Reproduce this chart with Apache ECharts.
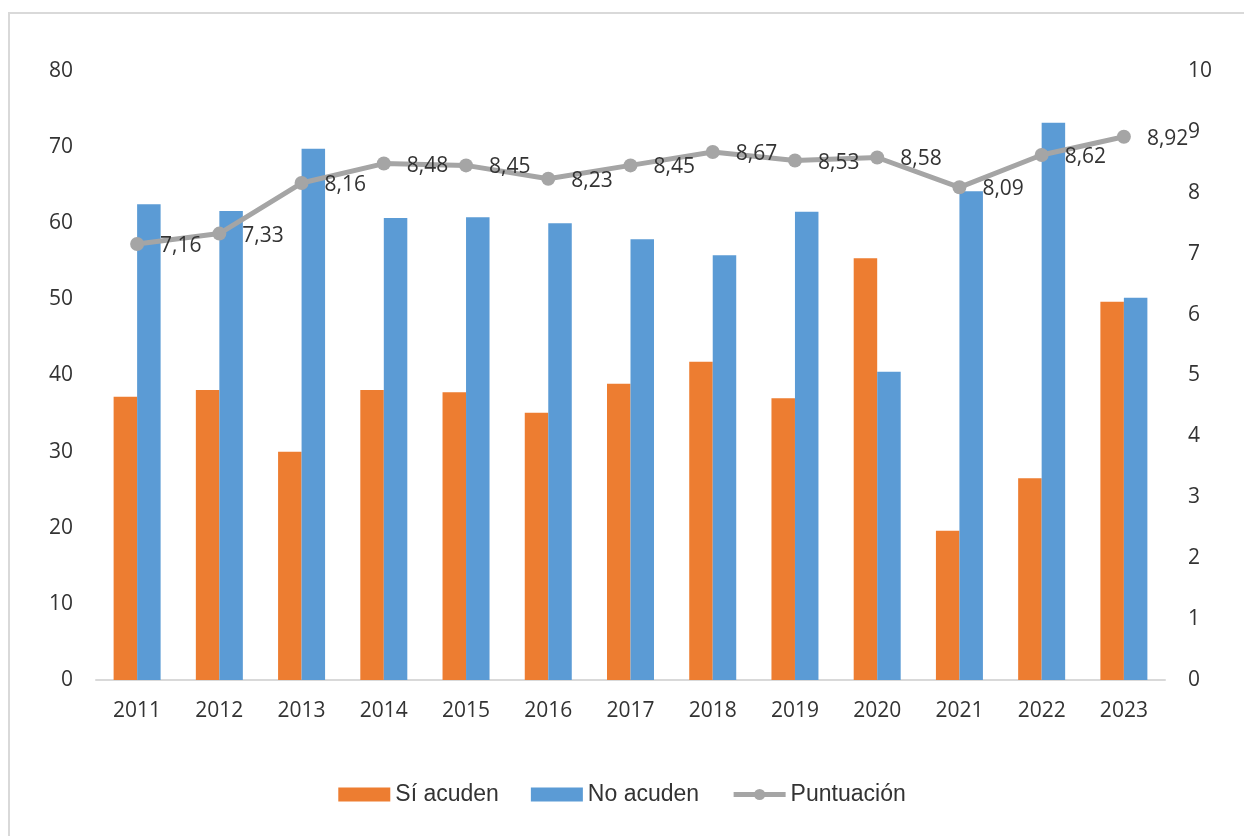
<!DOCTYPE html>
<html>
<head>
<meta charset="utf-8">
<script src="https://cdn.jsdelivr.net/npm/echarts@6/dist/echarts.min.js"></script>
<style>
  html, body { margin: 0; padding: 0; background: #ffffff; }
  #chart { width: 1244px; height: 836px; }
</style>
</head>
<body>
<div id="chart"></div>
<script>
const categories = ['2011','2012','2013','2014','2015','2016','2017','2018','2019','2020','2021','2022','2023'];
const siAcuden = [37.2, 38.1, 30.0, 38.1, 37.8, 35.1, 38.9, 41.8, 37.0, 55.4, 19.6, 26.5, 49.7];
const noAcuden = [62.5, 61.6, 69.8, 60.7, 60.8, 60.0, 57.9, 55.8, 61.5, 40.5, 64.2, 73.2, 50.2];
const puntuacion = [7.16, 7.33, 8.16, 8.48, 8.45, 8.23, 8.45, 8.67, 8.53, 8.58, 8.09, 8.62, 8.92];
const leftTicks = { min: 0, max: 80, interval: 10 };
const rightTicks = { min: 0, max: 10, interval: 1 };

const chart = echarts.init(document.getElementById('chart'), null, { renderer: 'canvas' });
const txt = '#333333';
const font = '"Open Sans", sans-serif';

chart.setOption({
  backgroundColor: '#ffffff',
  animation: false,
  graphic: [{
    type: 'rect',
    shape: { x: 9, y: 13, width: 1300, height: 900 },
    style: { fill: 'none', stroke: '#d9d9d9', lineWidth: 2 },
    silent: true
  }],
  grid: { left: 96, right: 79, top: 71, bottom: 156, containLabel: false },
  legend: {
    top: 778,
    left: 'center',
    itemWidth: 52,
    itemHeight: 14,
    itemGap: 32,
    textStyle: { fontFamily: '"Liberation Sans", Arial, sans-serif', fontSize: 23, color: txt },
    data: [
      { name: 'Sí acuden', icon: 'rect' },
      { name: 'No acuden', icon: 'rect' },
      { name: 'Puntuación', lineStyle: { width: 5, color: '#a5a5a5' } }
    ]
  },
  xAxis: {
    type: 'category',
    data: categories,
    boundaryGap: true,
    axisLine: { show: true, lineStyle: { color: '#d9d9d9', width: 2 } },
    axisTick: { show: false },
    axisLabel: { color: txt, fontFamily: font, fontSize: 21, margin: 21 }
  },
  yAxis: [{
    type: 'value',
    min: leftTicks.min, max: leftTicks.max, interval: leftTicks.interval,
    axisLine: { show: false }, axisTick: { show: false },
    splitLine: { show: false },
    axisLabel: { color: txt, fontFamily: font, fontSize: 21, margin: 23 }
  }, {
    type: 'value',
    min: rightTicks.min, max: rightTicks.max, interval: rightTicks.interval,
    axisLine: { show: false }, axisTick: { show: false },
    splitLine: { show: false },
    axisLabel: { color: txt, fontFamily: font, fontSize: 21, margin: 23 }
  }],
  series: [{
    name: 'Sí acuden',
    type: 'bar',
    data: siAcuden,
    barWidth: 23.5,
    barGap: '0%',
    itemStyle: { color: '#ed7d31' }
  }, {
    name: 'No acuden',
    type: 'bar',
    data: noAcuden,
    barWidth: 23.5,
    barGap: '0%',
    itemStyle: { color: '#5b9bd5' }
  }, {
    name: 'Puntuación',
    type: 'line',
    yAxisIndex: 1,
    data: puntuacion,
    symbol: 'circle',
    symbolSize: 14,
    lineStyle: { color: '#a5a5a5', width: 5 },
    itemStyle: { color: '#a5a5a5' },
    label: {
      show: true,
      position: 'right',
      distance: 16,
      offset: [0, 2],
      color: txt,
      fontFamily: font,
      fontSize: 21,
      formatter: p => p.value.toFixed(2).replace('.', ',')
    },
    z: 5
  }]
});
</script>
</body>
</html>
